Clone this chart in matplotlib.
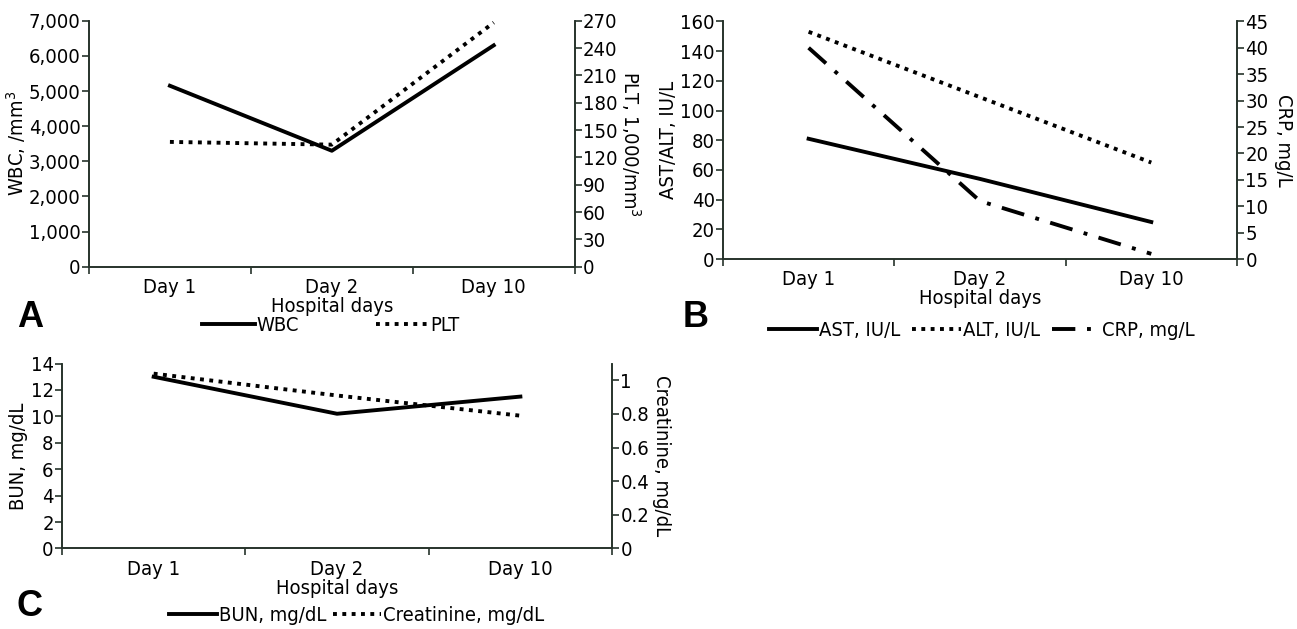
import matplotlib.pyplot as plt
from matplotlib.ticker import FuncFormatter

plt.rcParams['font.family'] = ['DejaVu Sans']
plt.rcParams['font.stretch'] = 'condensed'

# Data
days = ['Day 1', 'Day 2', 'Day 10']
wbc = [5150, 3300, 6300]
plt_count = [137, 134, 268]
ast = [81, 54, 25]
alt = [153, 109, 65]
crp = [40, 11, 1]
bun = [13.0, 10.2, 11.5]
creatinine = [1.04, 0.91, 0.79]

SPINE = '#26332b'
FS = 14.5
LW = 2.8
DOT = (0, (1, 1.4))
DASHDOT = (0, (6, 3, 1, 3))

fig = plt.figure(figsize=(12.97, 6.29), dpi=100)


def style_axes(ax, ax2):
    x = list(range(len(days)))
    for a in (ax, ax2):
        a.spines['top'].set_visible(False)
        for s in ('left', 'right', 'bottom'):
            a.spines[s].set_color(SPINE)
            a.spines[s].set_linewidth(1.2)
        a.tick_params(axis='y', colors=SPINE, labelcolor='black', labelsize=FS,
                      length=5, width=1.2, pad=1)
    ax.set_xlim(-0.5, 2.5)
    ax.set_xticks(x, days)
    ax.set_xticks([-0.5, 0.5, 1.5, 2.5], minor=True)
    ax.tick_params(axis='x', which='major', length=0, labelsize=FS, pad=8)
    ax.tick_params(axis='x', which='minor', length=5, width=1.2, colors=SPINE)
    ax.set_xlabel('Hospital days', fontsize=FS, labelpad=0)


def panel_letter(xf, yf, s):
    fig.text(xf, yf, s, fontsize=26, fontweight='bold', va='center',
             family='Liberation Sans', fontstretch='normal')


# Panel A
axA = fig.add_axes([0.0686, 0.576, 0.3745, 0.391])
axA2 = axA.twinx()
x = range(len(days))
lA1, = axA.plot(x, wbc, color='black', lw=LW, label='WBC')
lA2, = axA2.plot(x, plt_count, color='black', lw=LW, ls=DOT, label='PLT')
axA.set_ylim(0, 7000)
axA.set_yticks(range(0, 7001, 1000))
axA.yaxis.set_major_formatter(FuncFormatter(lambda v, p: f'{int(v):,}'))
axA2.set_ylim(0, 270)
axA2.set_yticks(range(0, 271, 30))
axA.set_ylabel('WBC, /mm$^3$', fontsize=FS)
axA.yaxis.set_label_coords(-0.126, 0.5)
axA2.set_ylabel('PLT, 1,000/mm$^3$', fontsize=FS, rotation=270, labelpad=18)
style_axes(axA, axA2)
fig.legend(handles=[lA1, lA2], loc='center', bbox_to_anchor=(0.255, 0.482), ncol=2,
           frameon=False, fontsize=FS, handlelength=2.6, handletextpad=0.1,
           columnspacing=3.8)
panel_letter(0.013, 0.495, 'A')

# Panel B
axB = fig.add_axes([0.5574, 0.588, 0.3963, 0.378])
axB2 = axB.twinx()
lB1, = axB.plot(x, ast, color='black', lw=LW, label='AST, IU/L')
lB2, = axB.plot(x, alt, color='black', lw=LW, ls=DOT, label='ALT, IU/L')
lB3, = axB2.plot(x, crp, color='black', lw=LW, ls=DASHDOT, label='CRP, mg/L')
axB.set_ylim(0, 160)
axB.set_yticks(range(0, 161, 20))
axB2.set_ylim(0, 45)
axB2.set_yticks(range(0, 46, 5))
axB.set_ylabel('AST/ALT, IU/L', fontsize=FS)
axB.yaxis.set_label_coords(-0.088, 0.5)
axB2.set_ylabel('CRP, mg/L', fontsize=FS, rotation=270, labelpad=18)
style_axes(axB, axB2)
fig.legend(handles=[lB1, lB2, lB3], loc='center', bbox_to_anchor=(0.757, 0.475), ncol=3,
           frameon=False, fontsize=FS, handlelength=2.4, handletextpad=0.1,
           columnspacing=0.6)
panel_letter(0.526, 0.495, 'B')

# Panel C
axC = fig.add_axes([0.0478, 0.128, 0.4241, 0.294])
axC2 = axC.twinx()
lC1, = axC.plot(x, bun, color='black', lw=LW, label='BUN, mg/dL')
lC2, = axC2.plot(x, creatinine, color='black', lw=LW, ls=DOT, label='Creatinine, mg/dL')
axC.set_ylim(0, 14)
axC.set_yticks(range(0, 15, 2))
axC2.set_ylim(0, 1.1)
axC2.set_yticks([0, 0.2, 0.4, 0.6, 0.8, 1.0], ['0', '0.2', '0.4', '0.6', '0.8', '1'])
axC.set_ylabel('BUN, mg/dL', fontsize=FS)
axC.yaxis.set_label_coords(-0.062, 0.5)
axC2.set_ylabel('Creatinine, mg/dL', fontsize=FS, rotation=270, labelpad=16)
style_axes(axC, axC2)
fig.legend(handles=[lC1, lC2], loc='center', bbox_to_anchor=(0.275, 0.022), ncol=2,
           frameon=False, fontsize=FS, handlelength=2.4, handletextpad=0.1,
           columnspacing=0.3)
panel_letter(0.013, 0.036, 'C')

fig.savefig('out.png', dpi=100)
